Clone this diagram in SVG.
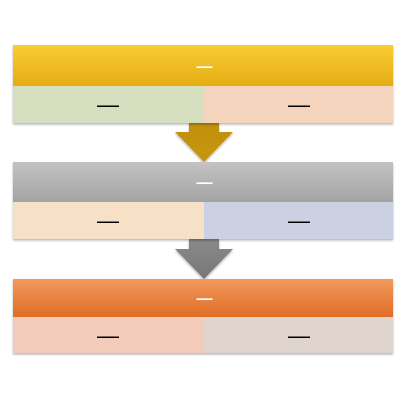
<svg xmlns="http://www.w3.org/2000/svg" width="400" height="400" viewBox="0 0 400 400">
<defs>
<linearGradient id="g1" x1="0" y1="0" x2="0" y2="1"><stop offset="0" stop-color="#FACD33"/><stop offset="1" stop-color="#E5AC15"/></linearGradient>
<linearGradient id="g2" x1="0" y1="0" x2="0" y2="1"><stop offset="0" stop-color="#C3C3C3"/><stop offset="1" stop-color="#A3A3A3"/></linearGradient>
<linearGradient id="g3" x1="0" y1="0" x2="0" y2="1"><stop offset="0" stop-color="#F19A5E"/><stop offset="1" stop-color="#DF6D26"/></linearGradient>
<linearGradient id="ga1" x1="0" y1="0" x2="0" y2="1"><stop offset="0" stop-color="#C09008"/><stop offset="1" stop-color="#C8960C"/></linearGradient>
<linearGradient id="ga2" x1="0" y1="0" x2="0" y2="1"><stop offset="0" stop-color="#8A8A8A"/><stop offset="1" stop-color="#777777"/></linearGradient>
<filter id="sh" x="-5%" y="-10%" width="110%" height="130%"><feDropShadow dx="0" dy="1.5" stdDeviation="1.2" flood-color="#000" flood-opacity="0.3"/></filter>
</defs>
<style>
.hd{font-family:"Liberation Sans",Arial,sans-serif;font-size:16px;fill:#FFFFFF;text-anchor:middle;font-weight:bold}
.sb{font-family:"Liberation Sans",Arial,sans-serif;font-size:22px;fill:#000000;text-anchor:middle}
</style>
<rect width="400" height="400" fill="#FFFFFF"/>
<g id="connectors">
<path d="M189,123 H219 V132 H233 L204,162 L175,132 H189 Z" fill="url(#ga1)" filter="url(#sh)"/>
<path d="M189,239 H219 V249 H233 L204,279 L175,249 H189 Z" fill="url(#ga2)" filter="url(#sh)"/>
</g>
<g id="block1" filter="url(#sh)">
<rect x="13" y="45" width="380" height="41" fill="url(#g1)"/>
<rect x="13" y="86" width="191" height="37" fill="#D6DEC0"/>
<rect x="204" y="86" width="189" height="37" fill="#F5D4BE"/>
<text class="hd" x="204.5" y="71.5">—</text>
<text class="sb" x="108" y="112">—</text>
<text class="sb" x="299" y="112">—</text>
</g>
<g id="block2" filter="url(#sh)">
<rect x="13" y="162" width="380" height="40" fill="url(#g2)"/>
<rect x="13" y="202" width="191" height="37" fill="#F6E0C6"/>
<rect x="204" y="202" width="189" height="37" fill="#CBD0E2"/>
<text class="hd" x="204.5" y="187.5">—</text>
<text class="sb" x="108" y="228">—</text>
<text class="sb" x="299" y="228">—</text>
</g>
<g id="block3" filter="url(#sh)">
<rect x="13" y="279" width="380" height="38" fill="url(#g3)"/>
<rect x="13" y="317" width="191" height="36" fill="#F3CBBA"/>
<rect x="204" y="317" width="189" height="36" fill="#DFD5CE"/>
<text class="hd" x="204.5" y="304">—</text>
<text class="sb" x="108" y="343">—</text>
<text class="sb" x="299" y="343">—</text>
</g>
</svg>
